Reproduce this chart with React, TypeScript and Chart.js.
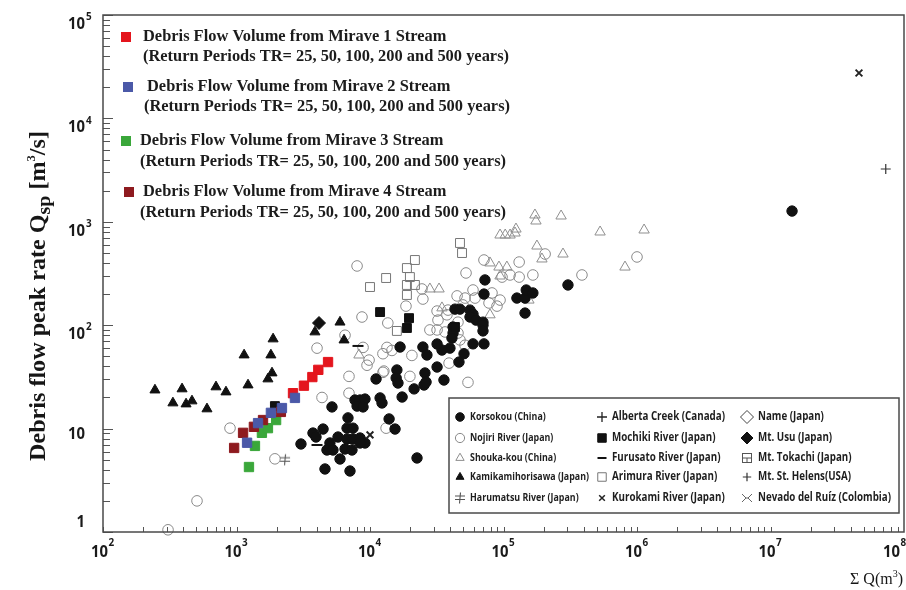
import React, { useEffect, useRef } from 'react';
import { Chart, registerables } from 'chart.js';
import { drawPoint } from 'chart.js/helpers';

Chart.register(...registerables);

type Pt = [number, number];

// ---------------- axis ticks ----------------
const xDecades = [2, 3, 4, 5, 6, 7, 8];
const yDecades = [0, 1, 2, 3, 4, 5];

// ---------------- series values (ΣQ m³, Qsp m³/s) ----------------
const mirave1: Pt[] = [[2650, 22], [3200, 26], [3700, 31.5], [4100, 37], [4850, 44]];
const mirave2: Pt[] = [[1200, 7.3], [1450, 11.3], [1810, 14.2], [2190, 15.8], [2740, 19.8]];
const mirave3: Pt[] = [[1240, 4.25], [1375, 6.8], [1550, 9.1], [1720, 10.1], [1980, 12.1]];
const mirave4: Pt[] = [[960, 6.5], [1120, 9.1], [1350, 10.4], [1580, 12.1], [2150, 14.5]];

const korsokou: Pt[] = [
  [1.45e7, 1270], [304000, 245], [72600, 274], [71400, 200], [126000, 183], [145000, 183],
  [148000, 219], [166000, 205], [145000, 131], [43300, 143], [47200, 143], [56100, 140],
  [59100, 128], [56100, 120], [62200, 112], [70200, 107], [70200, 100], [70200, 88],
  [41900, 96], [41900, 84], [41100, 75], [39700, 60], [34600, 57.5], [59100, 66],
  [71400, 66], [50600, 53], [46400, 44], [35800, 29.5], [16800, 61.5], [24900, 61.5],
  [26700, 51.5], [31800, 65.8], [31800, 39.4], [25800, 34.5], [25400, 26.4], [26300, 28.2],
  [21400, 24.2], [15900, 36.9], [15700, 30.9], [16200, 27.6], [11100, 30.2], [17400, 20.2],
  [11900, 19.8], [12300, 17.7], [7720, 18.9], [8420, 18.9], [9170, 19.3], [8000, 16.5],
  [8870, 16.2], [5190, 16.2], [6840, 12.7], [6730, 10.1], [7460, 10.1], [13900, 12.4],
  [15400, 9.9], [3740, 9.06], [3940, 8.29], [4450, 9.9], [5760, 8.29], [6730, 7.93],
  [7460, 7.93], [8420, 8.11], [9170, 7.26], [8420, 7.26], [5010, 7.26], [3040, 7.1],
  [4760, 6.21], [5280, 6.21], [6500, 6.35], [7330, 6.21], [5960, 5.08], [22500, 5.2],
  [4600, 4.07], [7080, 3.89],
];

const nojiri: Pt[] = [
  [307, 1.05], [506, 2.0], [894, 10.1], [1940, 5.1], [4010, 60], [4370, 20], [6500, 80],
  [6960, 32], [6960, 22], [12700, 36], [19900, 32], [13200, 10.1], [9500, 41], [39100, 43],
  [8000, 374], [71400, 427], [131000, 408], [166000, 306], [131000, 292], [112000, 306],
  [97500, 292], [387000, 306], [52400, 320], [24500, 224], [24900, 179], [18600, 153],
  [8710, 120], [59100, 219], [82000, 205], [94200, 175], [61200, 183], [51500, 183],
  [44900, 192], [49700, 157], [31800, 137], [37700, 126], [32300, 112], [28100, 90],
  [31800, 90], [36500, 86], [45600, 84], [47200, 72], [51500, 64], [13600, 105],
  [8870, 61], [9840, 46], [13400, 61], [14600, 57], [12500, 53], [20600, 51],
  [12500, 35], [54200, 28], [205000, 488], [1.0e6, 457], [77900, 164], [89400, 153],
  [38400, 140], [45600, 107],
];

const shoukakou: Pt[] = [
  [172000, 1164], [175000, 1018], [270000, 1138], [124000, 851], [94200, 745], [103000, 745],
  [112000, 745], [122000, 779], [529000, 797], [1.13e6, 833], [178000, 583], [279000, 488],
  [194000, 437], [813000, 365], [79200, 400], [92500, 365], [106000, 365], [94200, 299],
  [155000, 175], [28100, 224], [32900, 224], [79200, 126], [8270, 51.5], [34600, 147],
];

const kamikamihorisawa: Pt[] = [
  [245, 23.6], [334, 17.7], [391, 24.2], [419, 17.3], [464, 18.5], [601, 15.5], [702, 25.3],
  [834, 22.6], [1140, 51.5], [1220, 26.4], [1720, 30.2], [1810, 51.5], [1845, 34.5],
  [1880, 73.6], [3870, 86], [5960, 107], [6390, 71.9],
];

const harumatsu: Pt[] = [[2310, 5.0]];
const albertaCreek: Pt[] = [];
const mochiki: Pt[] = [[1940, 16.5], [11900, 134], [19600, 117], [18900, 94], [43300, 96]];
const furusato: Pt[] = [[8130, 63], [4010, 6.94]];
const arimura: Pt[] = [
  [47200, 624], [48900, 499], [21700, 427], [18900, 357], [19900, 292], [18900, 245],
  [21700, 245], [18900, 196], [13200, 286], [10000, 234], [15900, 88],
];
const kurokami: Pt[] = [[10000, 8.7], [4.6e7, 27500]];
const nameJapan: Pt[] = [];
const mtUsu: Pt[] = [[4150, 105]];
const mtTokachi: Pt[] = [];
const mtStHelens: Pt[] = [[7.3e7, 3240]];
const nevadoRuiz: Pt[] = [];

// ---------------- texts ----------------
const miraveTitles = [
  'Debris Flow Volume from Mirave 1 Stream',
  'Debris Flow Volume from Mirave 2 Stream',
  'Debris Flow Volume from Mirave 3 Stream',
  'Debris Flow Volume from Mirave 4 Stream',
];
const returnPeriodText = '(Return Periods TR= 25, 50, 100, 200 and 500 years)';
const boxLabels = [
  'Korsokou (China)', 'Nojiri River (Japan)', 'Shouka-kou (China)', 'Kamikamihorisawa (Japan)', 'Harumatsu River (Japan)',
  'Alberta Creek (Canada)', 'Mochiki River (Japan)', 'Furusato River (Japan)', 'Arimura River (Japan)', 'Kurokami River (Japan)',
  'Name (Japan)', 'Mt. Usu (Japan)', 'Mt. Tokachi (Japan)', 'Mt. St. Helens(USA)', 'Nevado del Ruíz (Colombia)',
];
const yTitleParts = ['Debris flow peak rate Q', 'sp', ' [m', '3', '/s]'];
const xTitleParts = ['Σ Q(m', '3', ')'];

const SERIF = '"Liberation Serif", "Times New Roman", "DejaVu Serif", serif';
const SANS = '"Open Sans", "Noto Sans", "DejaVu Sans", sans-serif';

function glyph(draw: (g: CanvasRenderingContext2D) => void, size = 14): HTMLCanvasElement {
  const c = document.createElement('canvas');
  c.width = size;
  c.height = size;
  const g = c.getContext('2d')!;
  g.translate(size / 2, size / 2);
  g.lineCap = 'butt';
  draw(g);
  return c;
}

function fitText(ctx: CanvasRenderingContext2D, text: string, x: number, y: number, font: string, sx: number, align: 'left' | 'right' | 'center') {
  ctx.save();
  ctx.font = font;
  const w = ctx.measureText(text).width * sx;
  const x0 = align === 'left' ? x : align === 'right' ? x - w : x - w / 2;
  ctx.translate(x0, y);
  ctx.scale(sx, 1);
  ctx.textAlign = 'left';
  ctx.fillText(text, 0, 0);
  ctx.restore();
  return w;
}

export default function App() {
  const ref = useRef<HTMLCanvasElement>(null);

  useEffect(() => {
    document.body.style.margin = '0';
    const canvas = ref.current!;

    const harumatsuImg = glyph((g) => {
      g.strokeStyle = '#555'; g.lineWidth = 1.1;
      g.beginPath();
      g.moveTo(-5, -2); g.lineTo(5, -2);
      g.moveTo(-5, 1.5); g.lineTo(5, 1.5);
      g.moveTo(0.5, -5.5); g.lineTo(-0.5, 5.5);
      g.stroke();
    });
    const tokachiImg = glyph((g) => {
      g.strokeStyle = '#555'; g.lineWidth = 1;
      g.strokeRect(-4.5, -4.5, 9, 9);
      g.beginPath();
      g.moveTo(-4.5, 0); g.lineTo(4.5, 0);
      g.moveTo(0, 0); g.lineTo(0, 4.5);
      g.stroke();
    });
    const nevadoImg = glyph((g) => {
      g.strokeStyle = '#666'; g.lineWidth = 1;
      g.beginPath();
      g.moveTo(-5, -4); g.lineTo(-1, 0); g.lineTo(-5, 4);
      g.moveTo(5, -4); g.lineTo(1, 0); g.lineTo(5, 4);
      g.moveTo(-1, 0); g.lineTo(1, 0);
      g.stroke();
    });

    const T = 'rgba(0,0,0,0)';
    type S = { key: string; data: Pt[]; ps: any; r: number; bg: string; bd: string; bw: number; lr?: number };
    const st: Record<string, S> = {
      mirave2: { key: 'mirave2', data: mirave2, ps: 'rect', r: 6.6, bg: '#4b59a8', bd: '#4b59a8', bw: 1 },
      mirave4: { key: 'mirave4', data: mirave4, ps: 'rect', r: 6.6, bg: '#8e1a1f', bd: '#8e1a1f', bw: 1 },
      mirave3: { key: 'mirave3', data: mirave3, ps: 'rect', r: 6.6, bg: '#3aa73a', bd: '#3aa73a', bw: 1 },
      mirave1: { key: 'mirave1', data: mirave1, ps: 'rect', r: 6.6, bg: '#e4151d', bd: '#e4151d', bw: 1 },
      mtUsu: { key: 'mtUsu', data: mtUsu, ps: 'rectRot', r: 6.5, bg: '#111', bd: '#111', bw: 1, lr: 6 },
      kamikamihorisawa: { key: 'kamikamihorisawa', data: kamikamihorisawa, ps: 'triangle', r: 5.8, bg: '#111', bd: '#111', bw: 1, lr: 4.6 },
      mochiki: { key: 'mochiki', data: mochiki, ps: 'rect', r: 6.3, bg: '#111', bd: '#111', bw: 1, lr: 6 },
      furusato: { key: 'furusato', data: furusato, ps: 'line', r: 5.5, bg: '#111', bd: '#111', bw: 2, lr: 4.5 },
      kurokami: { key: 'kurokami', data: kurokami, ps: 'crossRot', r: 4.8, bg: '#222', bd: '#222', bw: 1.9, lr: 4 },
      harumatsu: { key: 'harumatsu', data: harumatsu, ps: harumatsuImg, r: 6, bg: '#555', bd: '#555', bw: 1 },
      mtStHelens: { key: 'mtStHelens', data: mtStHelens, ps: 'cross', r: 5, bg: '#333', bd: '#333', bw: 1.2, lr: 4.2 },
      korsokou: { key: 'korsokou', data: korsokou, ps: 'circle', r: 5.2, bg: '#111', bd: '#111', bw: 1, lr: 4.3 },
      arimura: { key: 'arimura', data: arimura, ps: 'rect', r: 6.3, bg: T, bd: '#777', bw: 1, lr: 6 },
      nojiri: { key: 'nojiri', data: nojiri, ps: 'circle', r: 5.3, bg: T, bd: '#8a8a8a', bw: 1, lr: 4.6 },
      shoukakou: { key: 'shoukakou', data: shoukakou, ps: 'triangle', r: 6, bg: T, bd: '#8f8f8f', bw: 1, lr: 4.8 },
      albertaCreek: { key: 'albertaCreek', data: albertaCreek, ps: 'cross', r: 5, bg: '#222', bd: '#222', bw: 1.3, lr: 5 },
      nameJapan: { key: 'nameJapan', data: nameJapan, ps: 'rectRot', r: 6, bg: T, bd: '#444', bw: 1, lr: 6.5 },
      mtTokachi: { key: 'mtTokachi', data: mtTokachi, ps: tokachiImg, r: 6, bg: '#555', bd: '#555', bw: 1 },
      nevadoRuiz: { key: 'nevadoRuiz', data: nevadoRuiz, ps: nevadoImg, r: 6, bg: '#666', bd: '#666', bw: 1 },
    };
    const drawOrder = ['mirave2', 'mirave4', 'mirave3', 'mirave1', 'mtUsu', 'kamikamihorisawa', 'mochiki', 'furusato',
      'kurokami', 'harumatsu', 'mtStHelens', 'korsokou', 'arimura', 'nojiri', 'shoukakou', 'albertaCreek', 'nameJapan',
      'mtTokachi', 'nevadoRuiz'];
    const boxKeys = ['korsokou', 'nojiri', 'shoukakou', 'kamikamihorisawa', 'harumatsu',
      'albertaCreek', 'mochiki', 'furusato', 'arimura', 'kurokami',
      'nameJapan', 'mtUsu', 'mtTokachi', 'mtStHelens', 'nevadoRuiz'];
    const miraveKeys = ['mirave1', 'mirave2', 'mirave3', 'mirave4'];

    const datasets = drawOrder.map((k) => {
      const s = st[k];
      return {
        label: k,
        data: s.data.map(([x, y]) => ({ x, y })),
        pointStyle: s.ps,
        pointRadius: s.r,
        pointHoverRadius: s.r,
        pointBackgroundColor: s.bg,
        pointBorderColor: s.bd,
        pointBorderWidth: s.bw,
        showLine: false,
        clip: 8,
      };
    });

    const marker = (ctx: CanvasRenderingContext2D, s: S, x: number, y: number, r?: number) => {
      ctx.save();
      ctx.fillStyle = s.bg;
      ctx.strokeStyle = s.bd;
      ctx.lineWidth = s.key === 'kurokami' ? 1.5 : s.bw;
      drawPoint(ctx, { pointStyle: s.ps, radius: r ?? s.lr ?? s.r, borderWidth: s.bw, rotation: 0 } as any, x, y);
      ctx.restore();
    };

    const deco = {
      id: 'deco',
      afterDatasetsDraw(chart: any) {
        const ctx: CanvasRenderingContext2D = chart.ctx;
        const { left, right, top, bottom } = chart.chartArea;
        const xs = chart.scales.x;
        const ys = chart.scales.y;
        ctx.save();

        // inner ticks
        ctx.strokeStyle = '#555';
        ctx.lineWidth = 1;
        ctx.beginPath();
        for (let e = xDecades[0]; e < xDecades[xDecades.length - 1]; e++) {
          for (let m = 1; m < 10; m++) {
            const px = Math.round(xs.getPixelForValue(m * Math.pow(10, e))) + 0.5;
            ctx.moveTo(px, bottom);
            ctx.lineTo(px, bottom - 5);
          }
        }
        for (let e = yDecades[0]; e <= yDecades[yDecades.length - 1]; e++) {
          for (let m = 1; m < 10; m++) {
            const v = m * Math.pow(10, e);
            if (v > Math.pow(10, yDecades[yDecades.length - 1])) break;
            const py = Math.round(ys.getPixelForValue(v)) + 0.5;
            ctx.moveTo(left, py);
            ctx.lineTo(left + (m === 1 ? 10 : 7), py);
          }
        }
        ctx.stroke();

        // frame
        ctx.strokeStyle = '#4a4a4a';
        ctx.lineWidth = 1.5;
        ctx.strokeRect(left, top, right - left, bottom - top);

        // tick labels
        ctx.fillStyle = '#1a1a1a';
        ctx.textBaseline = 'middle';
        const big = `700 16.5px ${SANS}`;
        const sup = `700 11px ${SANS}`;
        for (const e of yDecades) {
          const t = ys.getPixelForValue(Math.pow(10, e));
          if (e === 0) fitText(ctx, '1', 85, t - 10, big, 0.9, 'right');
          else if (e === 1) fitText(ctx, '10', 85, t + 6, big, 0.9, 'right');
          else {
            fitText(ctx, '10', 85, t + 9, big, 0.9, 'right');
            fitText(ctx, String(e), 86, t + 2, sup, 0.9, 'left');
          }
        }
        for (const e of xDecades) {
          const t = xs.getPixelForValue(Math.pow(10, e));
          const ax = e === xDecades[xDecades.length - 1] ? Math.min(t + 5, 900) : t + 5;
          fitText(ctx, '10', ax, 552, big, 0.9, 'right');
          fitText(ctx, String(e), ax + 0.5, 543, sup, 0.9, 'left');
        }

        // y title
        ctx.save();
        ctx.translate(37, 296);
        ctx.rotate(-Math.PI / 2);
        ctx.textBaseline = 'alphabetic';
        ctx.fillStyle = '#161616';
        const fMain = `700 23px ${SERIF}`;
        const fSub = `700 19px ${SERIF}`;
        const fSup = `700 12px ${SERIF}`;
        const parts: [string, string, number][] = [
          [yTitleParts[0], fMain, 0], [yTitleParts[1], fSub, 5], [yTitleParts[2], fMain, 0],
          [yTitleParts[3], fSup, -10], [yTitleParts[4], fMain, 0],
        ];
        let total = 0;
        for (const [txt, f] of parts) { ctx.font = f; total += ctx.measureText(txt).width; }
        const sx = 330 / total;
        let cx = -330 / 2;
        for (const [txt, f, dy] of parts) {
          cx += fitText(ctx, txt, cx, 8 + dy, f, sx, 'left');
        }
        ctx.restore();

        // x title
        ctx.save();
        ctx.textBaseline = 'alphabetic';
        ctx.fillStyle = '#161616';
        const xf = `400 16px ${SERIF}`;
        const xfs = `400 10px ${SERIF}`;
        ctx.font = xf;
        const w0 = ctx.measureText(xTitleParts[0]).width;
        const w2 = ctx.measureText(xTitleParts[2]).width;
        ctx.font = xfs;
        const w1 = ctx.measureText(xTitleParts[1]).width;
        let xx = 903 - (w0 + w1 + w2);
        xx += fitText(ctx, xTitleParts[0], xx, 584, xf, 1, 'left');
        xx += fitText(ctx, xTitleParts[1], xx, 577, xfs, 1, 'left');
        fitText(ctx, xTitleParts[2], xx, 584, xf, 1, 'left');
        ctx.restore();

        // Mirave legend (top-left)
        const mPos = [
          { sq: [126, 37], a: [143, 37], b: [143, 57] },
          { sq: [128, 87], a: [147, 87], b: [144, 107] },
          { sq: [126, 141], a: [140, 141], b: [140, 162] },
          { sq: [129, 192], a: [143, 192], b: [140, 213] },
        ];
        const lf = `700 16.5px ${SERIF}`;
        ctx.font = lf;
        const lsx = 366 / ctx.measureText(returnPeriodText).width;
        ctx.fillStyle = '#1c1c1c';
        ctx.textBaseline = 'middle';
        mPos.forEach((p, i) => {
          const s = st[miraveKeys[i]];
          ctx.fillStyle = s.bg;
          ctx.fillRect(p.sq[0] - 5, p.sq[1] - 5, 10, 10);
          ctx.fillStyle = '#1c1c1c';
          fitText(ctx, miraveTitles[i], p.a[0], p.a[1], lf, lsx, 'left');
          fitText(ctx, returnPeriodText, p.b[0], p.b[1], lf, lsx, 'left');
        });

        // box legend (bottom-right)
        ctx.fillStyle = '#ffffff';
        ctx.fillRect(449, 398, 450, 115);
        ctx.strokeStyle = '#4a4a4a';
        ctx.lineWidth = 1.5;
        ctx.strokeRect(449, 398, 450, 115);
        const rows = [417, 438, 458, 477, 498];
        const cols = [
          { mx: 460, tx: 470, font: `700 10px ${SANS}`, ref: boxLabels[3], w: 119 },
          { mx: 602, tx: 612, font: `700 11.5px ${SANS}`, ref: boxLabels[5], w: 113 },
          { mx: 747, tx: 758, font: `700 11.5px ${SANS}`, ref: boxLabels[14], w: 133 },
        ];
        ctx.textBaseline = 'middle';
        cols.forEach((c, ci) => {
          ctx.font = c.font;
          const csx = c.w / ctx.measureText(c.ref).width;
          rows.forEach((ry, ri) => {
            const idx = ci * 5 + ri;
            marker(ctx, st[boxKeys[idx]], c.mx, ry);
            ctx.fillStyle = '#1e1e1e';
            fitText(ctx, boxLabels[idx], c.tx, ry, c.font, csx, 'left');
          });
        });

        ctx.restore();
      },
    };

    const chart = new Chart(canvas, {
      type: 'scatter',
      data: { datasets: datasets as any },
      options: {
        animation: false,
        responsive: false,
        devicePixelRatio: 1,
        events: [],
        layout: { autoPadding: false, padding: { left: 0, top: 15, right: 2, bottom: 0 } },
        scales: {
          x: {
            type: 'logarithmic',
            min: Math.pow(10, xDecades[0]),
            max: Math.pow(10, xDecades[xDecades.length - 1]),
            grid: { display: false, drawTicks: false },
            border: { display: false },
            ticks: { display: false },
            afterFit: (s: any) => { s.height = 58; },
          },
          y: {
            type: 'logarithmic',
            min: Math.pow(10, yDecades[0]),
            max: Math.pow(10, yDecades[yDecades.length - 1]),
            grid: { display: false, drawTicks: false },
            border: { display: false },
            ticks: { display: false },
            afterFit: (s: any) => { s.width = 103; },
          },
        },
        plugins: { legend: { display: false }, tooltip: { enabled: false } },
      } as any,
      plugins: [deco],
    });

    return () => chart.destroy();
  }, []);

  return (
    <canvas ref={ref} width={906} height={590} style={{ display: 'block', width: '906px', height: '590px', background: '#fff' }} />
  );
}
